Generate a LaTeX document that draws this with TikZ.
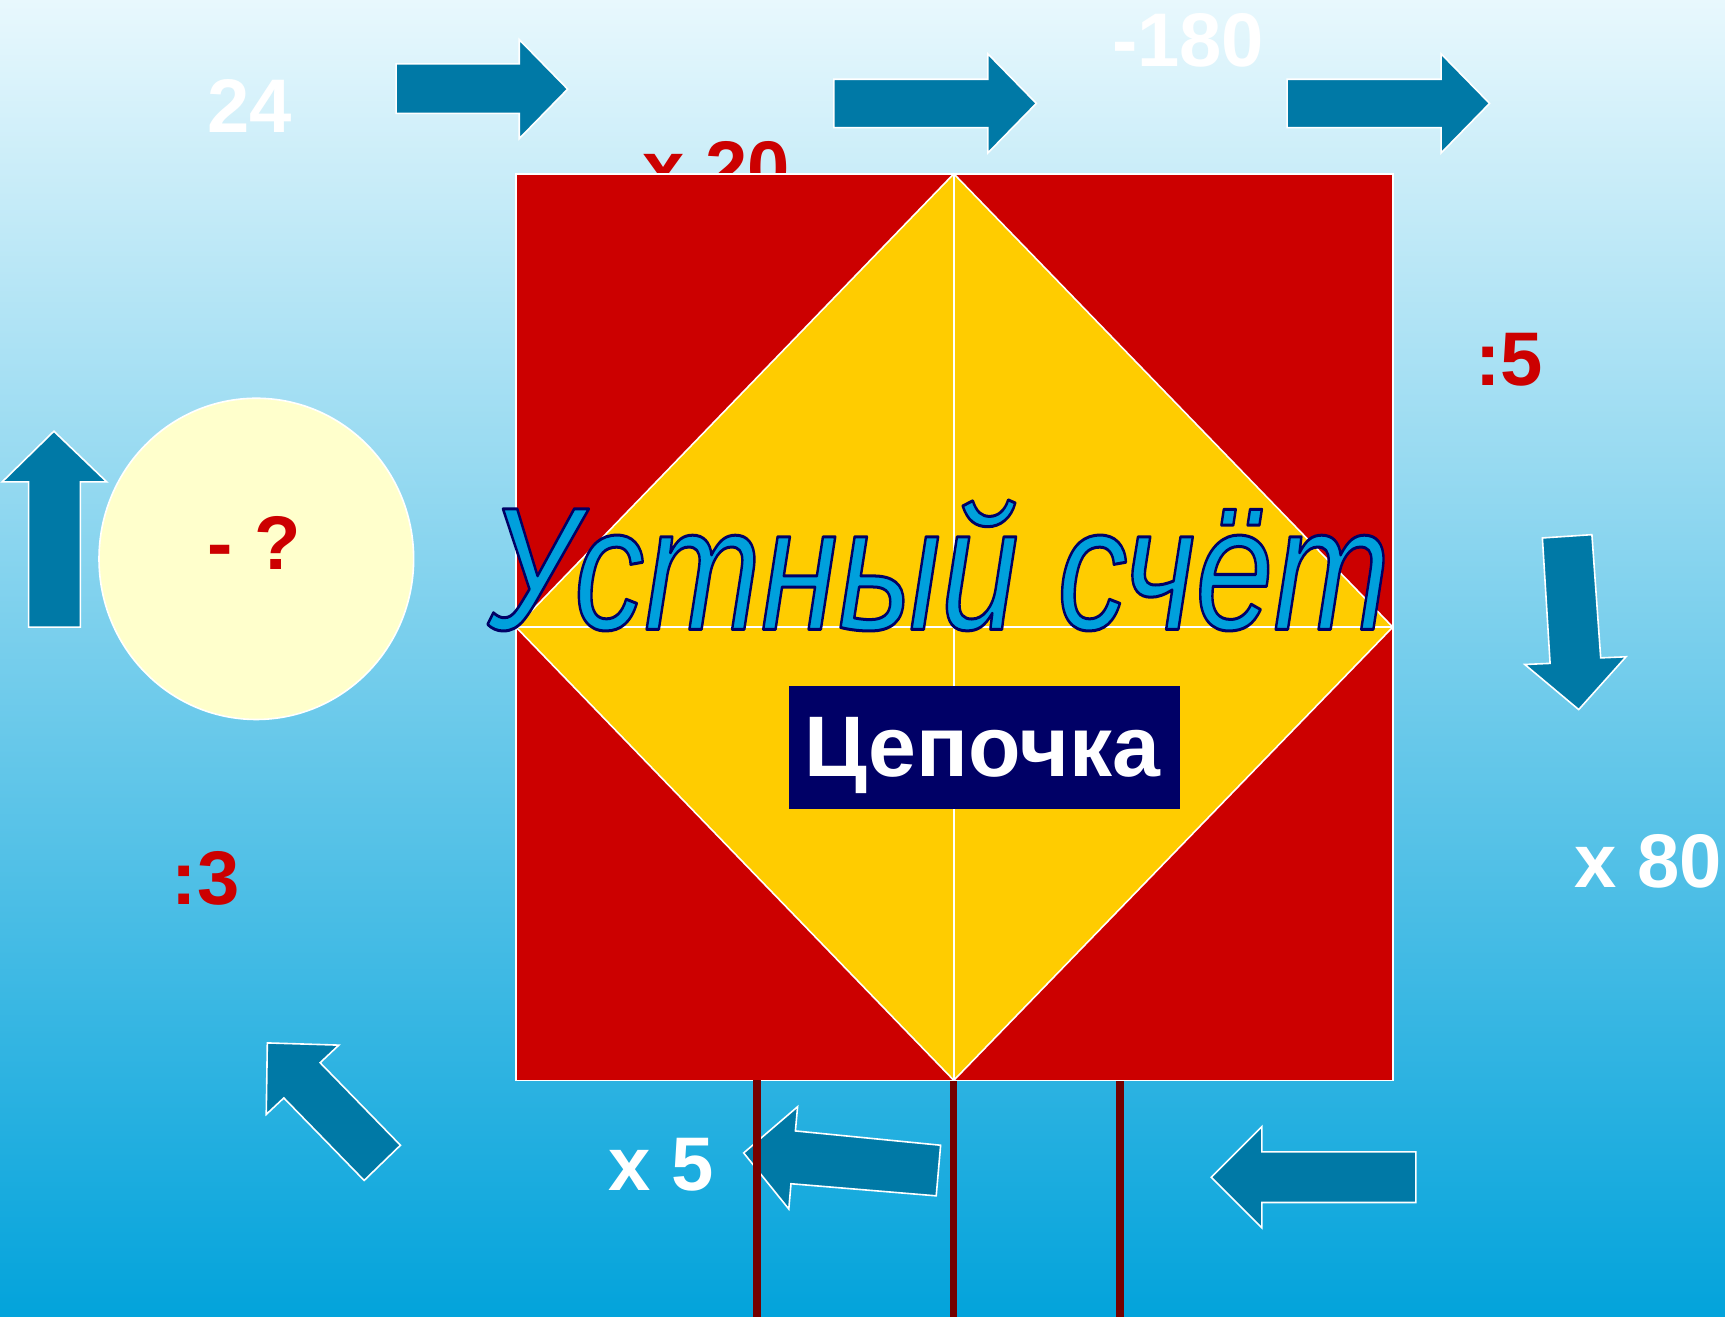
\documentclass[tikz,border=0pt]{standalone}
\usepackage{fontspec}
\setmainfont{Liberation Sans}
\usetikzlibrary{calc}
\definecolor{bgtop}{HTML}{E8F8FD}
\definecolor{bgbot}{HTML}{03A3DB}
\definecolor{sqred}{HTML}{CC0000}
\definecolor{diayel}{HTML}{FFCC00}
\definecolor{arrblue}{HTML}{0079A6}
\definecolor{txtred}{HTML}{CC0000}
\definecolor{navy}{HTML}{000066}
\definecolor{titleblue}{HTML}{00A0DC}
\definecolor{postred}{HTML}{750000}
\definecolor{circfill}{HTML}{FFFFCC}
\newcommand{\titletxt}{\scalebox{0.80}[1]{\special{pdf:literal direct 2 Tr 1 j 1.5 w 0 0 0.4 RG}\itshape Устный счёт\special{pdf:literal direct 0 Tr}}}
\begin{document}
\begin{tikzpicture}[x=0.55pt,y=-0.55pt,
  blockarrow/.style={fill=arrblue,draw=white,line width=0.8pt,line join=miter},
  numtxt/.style={font=\fontsize{38}{38}\selectfont\bfseries,inner sep=0pt,anchor=base},
  whiteline/.style={draw=white,line width=0.8pt},
  post/.style={draw=postred,line width=3.6pt},
  titlefont/.style={font=\fontsize{87.5}{87.5}\selectfont,inner sep=0pt,anchor=base west}]
% background
\shade[top color=bgtop,bottom color=bgbot] (0,0) rectangle (1568,1197);
\useasboundingbox (0,0) rectangle (1568,1197);
% text hidden behind the square
\node[numtxt,text=txtred] (x20) at (651,177) {x 20};
% square
\coordinate (TL) at (469,158);
\coordinate (TR) at (1266,158);
\coordinate (BR) at (1266,982);
\coordinate (BL) at (469,982);
\coordinate (T) at (867,158);
\coordinate (R) at (1266,570);
\coordinate (B) at (867,982);
\coordinate (L) at (469,570);
\fill[sqred] (TL) rectangle (BR);
\fill[diayel] (T)--(R)--(B)--(L)--cycle;
\path[whiteline] (TL) rectangle (BR);
\path[whiteline] (T)--(R)--(B)--(L)--cycle;
\path[whiteline] (T)--(B);
\path[whiteline] (L)--(R);
% arrows
\path[blockarrow] (360,58)--(472,58)--(472,36)--(516,81)--(472,126)--(472,103)--(360,103)--cycle;
\path[blockarrow] (758,72)--(898,72)--(898,49)--(942,94)--(898,139)--(898,116)--(758,116)--cycle;
\path[blockarrow] (1170,72)--(1310,72)--(1310,49)--(1354,94)--(1310,139)--(1310,116)--(1170,116)--cycle;
\path[blockarrow] (26,570)--(26,438)--(2,438)--(49,392)--(97,438)--(73,438)--(73,570)--cycle;
\path[blockarrow] (1402,489)--(1447,486)--(1455,598)--(1478,597)--(1435,645)--(1386,604)--(1409,603)--cycle;
\path[blockarrow] (243,948)--(308,950)--(291,966)--(364,1041)--(331,1073)--(258,998)--(242,1013)--cycle;
\path[blockarrow] (676,1048)--(725,1006)--(723,1028)--(855,1041)--(851,1087)--(719,1076)--(717,1099)--cycle;
\path[blockarrow] (1287,1047)--(1147,1047)--(1147,1024)--(1101,1070)--(1147,1116)--(1147,1093)--(1287,1093)--cycle;
% posts
\path[post] (688,982)--(688,1197);
\path[post] (867,983)--(867,1197);
\path[post] (1018,983)--(1018,1197);
% circle
\draw[white,fill=circfill,line width=0.8pt] (233,508) ellipse [x radius=143,y radius=146];
\node[numtxt,text=txtred] (q) at (231,518) {- ?};
% numbers
\node[numtxt,text=white] (n24) at (227,120) {24};
\node[numtxt,text=white] (n180) at (1080,60) {-180};
\node[numtxt,text=txtred] (d5) at (1372,350) {:5};
\node[numtxt,text=white] (x80) at (1498,807) {x 80};
\node[numtxt,text=txtred] (d3) at (187,822) {:3};
\node[numtxt,text=white] (x5) at (601,1082) {x 5};
% title with outline (text render mode fill+stroke)
\node[titlefont,text=titleblue] (title) at (443,572) {\titletxt};
% chain box
\fill[navy] (717,624) rectangle (1073,735);
\node[font=\fontsize{43}{43}\selectfont\bfseries,text=white,inner sep=0pt,anchor=base] (chain) at (893,706) {Цепочка};
\end{tikzpicture}
\end{document}
